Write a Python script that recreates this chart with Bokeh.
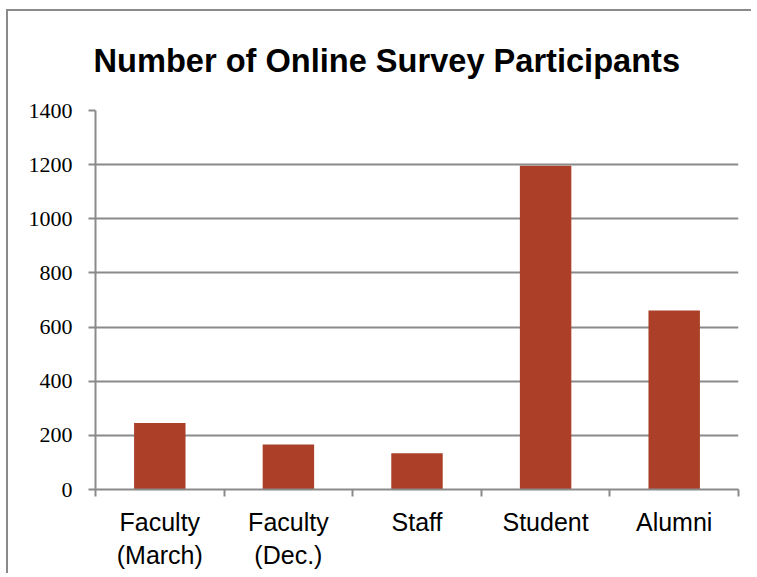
from bokeh.plotting import figure
from bokeh.models import ColumnDataSource, Range1d, FixedTicker
from bokeh.embed import file_html
from bokeh.resources import INLINE

# ---- data ----
categories = ["Faculty\n(March)", "Faculty\n(Dec.)", "Staff", "Student", "Alumni"]
participants = [246, 166, 134, 1196, 661]
y_ticks = [0, 200, 400, 600, 800, 1000, 1200, 1400]
title_text = "Number of Online Survey Participants"

positions = [i + 0.5 for i in range(len(categories))]
boundaries = list(range(len(categories) + 1))

src = ColumnDataSource(dict(x=positions, top=participants, name=categories))

GRAY = "#8a8a8a"
BAR = "#ab3f28"

p = figure(width=745, height=564, output_backend="svg", toolbar_location=None,
           x_range=Range1d(0, len(categories)), y_range=Range1d(0, 1400),
           min_border_left=87, min_border_right=15, min_border_top=99,
           min_border_bottom=86)
p.styles = {"border-left": f"2px solid {GRAY}", "border-top": f"2px solid {GRAY}",
            "margin-left": "6px", "margin-top": "9px"}
p.outline_line_color = None
p.background_fill_color = "white"
p.border_fill_color = "white"

p.vbar(x="x", top="top", width=0.4, bottom=0, source=src,
       fill_color=BAR, line_color=None)

# title
p.title.text = title_text
p.title.text_font = "Liberation Sans"
p.title.text_font_style = "bold"
p.title.text_font_size = "32.6px"
p.title.text_color = "black"
p.title.align = "left"
p.title.offset = -2
p.title.vertical_align = "top"
p.title.standoff = 59

# grid
p.xgrid.grid_line_color = None
p.ygrid.ticker = FixedTicker(ticks=y_ticks)
p.ygrid.grid_line_color = GRAY
p.ygrid.grid_line_width = 2

# y axis
ya = p.yaxis[0]
ya.ticker = FixedTicker(ticks=y_ticks)
ya.axis_line_color = GRAY
ya.axis_line_width = 2
ya.major_tick_line_color = GRAY
ya.major_tick_line_width = 2
ya.major_tick_out = 7
ya.major_tick_in = 0
ya.minor_tick_line_color = None
ya.major_label_text_font = "Liberation Serif"
ya.major_label_text_font_size = "22px"
ya.major_label_text_color = "black"
ya.major_label_standoff = 16

# x axis
xa = p.xaxis[0]
xa.ticker = FixedTicker(ticks=positions, minor_ticks=boundaries)
xa.major_label_overrides = {pos: name for pos, name in zip(positions, categories)}
xa.axis_line_color = GRAY
xa.axis_line_width = 2
xa.major_tick_line_color = None
xa.major_tick_out = 0
xa.major_tick_in = 0
xa.minor_tick_line_color = GRAY
xa.minor_tick_line_width = 2
xa.minor_tick_out = 7
xa.minor_tick_in = 0
xa.major_label_text_font = "Liberation Sans"
xa.major_label_text_font_size = "25px"
xa.major_label_text_color = "black"
xa.major_label_standoff = 11

open("out.html", "w").write(file_html(p, INLINE))
